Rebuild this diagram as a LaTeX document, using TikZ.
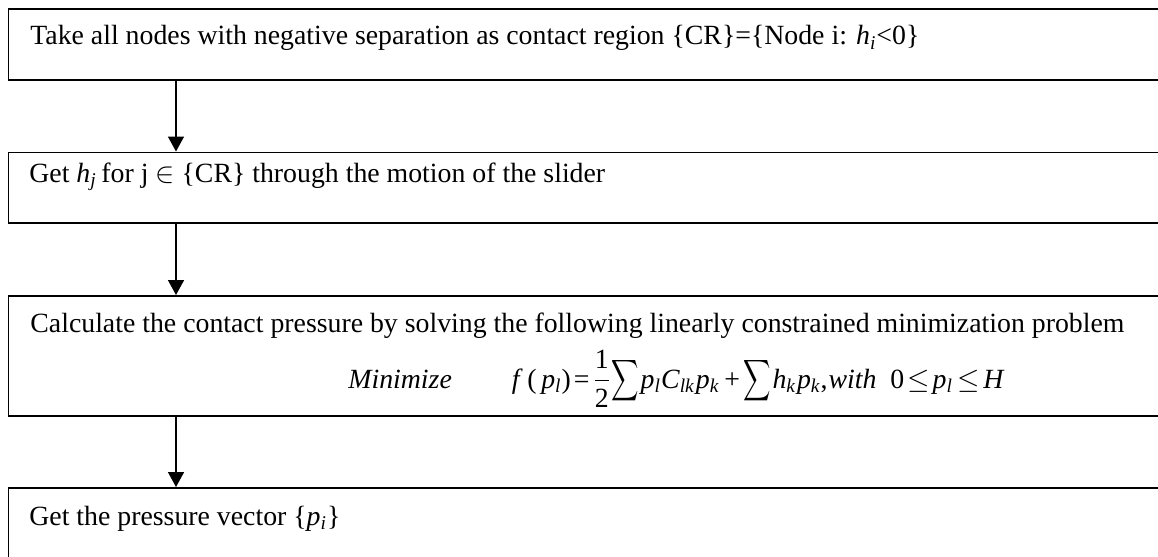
\documentclass[tikz,border=0pt]{standalone}
\usepackage{amsmath}
\usepackage{graphicx}
\usepackage{fontspec}
\setmainfont{Liberation Serif}
\usetikzlibrary{arrows.meta}
\newcommand{\vi}[1]{\textit{#1}}
\newcommand{\sbi}[1]{$_{\textit{#1}}$}
\newcommand{\mysum}{\scalebox{0.66}[1]{$\displaystyle\sum$}}
\begin{document}
\begin{tikzpicture}[x=0.5pt,y=-0.5pt,
  box/.style={draw, line width=0.8pt, inner sep=0pt, anchor=north west, minimum width=600pt},
  txt/.style={anchor=base west, inner sep=0pt, font=\fontsize{13.9}{16}\selectfont},
  arr/.style={draw, line width=0.8pt, -{Triangle[width=8pt,length=7.5pt]}}]
\path[use as bounding box, clip] (0,0) rectangle (1158,557);
\fill[white] (0,0) rectangle (1158,557);
\node[box, minimum height=35.5pt] (b1) at (7.5,8) {};
\node[box, minimum height=35.25pt] (b2) at (7.5,151.5) {};
\node[box, minimum height=60pt] (b3) at (7.5,295) {};
\node[box, minimum height=60pt] (b4) at (7.5,487) {};
\node[txt] (t1) at (30,45) {Take all nodes with negative separation as contact region \{CR\}=\{Node i: \vi{h}\sbi{i}<0\}};
\node[txt] (t2) at (29,182.5) {Get \vi{h}\sbi{j}\,for j $\in$ \{CR\} through the motion of the slider};
\node[txt] (t3) at (30,332) {Calculate the contact pressure by solving the following linearly constrained minimization problem};
\node[txt] (t3b) at (348,388) {\vi{Minimize}\hspace{30pt}\vi{f}\,(\,\vi{p}\sbi{l})\hspace{1.5pt}=\hspace{1.5pt}$\dfrac{\mbox{1}}{\mbox{2}}$\mysum\hspace{1pt}\vi{p}\sbi{l}\vi{C}\sbi{lk}\hspace{0.5pt}\vi{p}\sbi{k}\hspace{2.5pt}+\hspace{1.5pt}\mysum\hspace{1pt}\vi{h}\sbi{k}\hspace{0.5pt}\vi{p}\sbi{k},\hspace{0.5pt}\vi{with}\hspace{7pt}0\hspace{1.5pt}$\le$\hspace{1.5pt}\vi{p}\sbi{l}\hspace{2pt}$\le$\hspace{2pt}\vi{H}};
\node[txt] (t4) at (29,525) {Get the pressure vector \{\vi{p}\sbi{i}\}};
\draw[arr] ([xshift=84.25pt]b1.south west) -- ([xshift=84.25pt]b2.north west);
\draw[arr] ([xshift=84.25pt]b2.south west) -- ([xshift=84.25pt]b3.north west);
\draw[arr] ([xshift=84.25pt]b3.south west) -- ([xshift=84.25pt]b4.north west);
\end{tikzpicture}
\end{document}
